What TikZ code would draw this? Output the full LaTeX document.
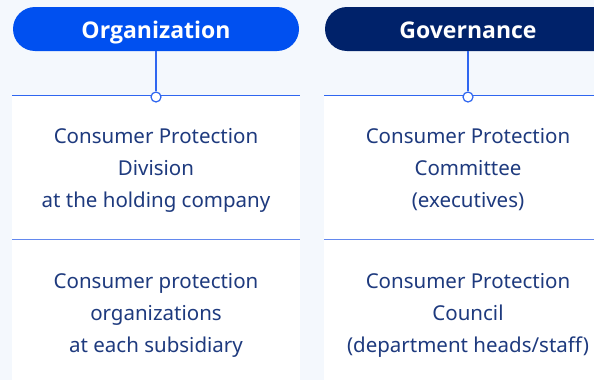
\documentclass[tikz,border=0pt]{standalone}
\usepackage{fontspec}
\setmainfont{Noto Sans}
\newfontfamily\headfont{Open Sans}
\definecolor{bg}{HTML}{F4F8FD}
\definecolor{pillA}{HTML}{0050F0}
\definecolor{pillB}{HTML}{00226A}
\definecolor{lineA}{HTML}{2F66F0}
\definecolor{lineB}{HTML}{6388EE}
\definecolor{txt}{HTML}{1E3A7E}
\begin{document}
\begin{tikzpicture}[x=1pt,y=-1pt,
  pill/.style={rounded corners=22pt},
  head/.style={text=white,font=\headfont\fontsize{23}{27}\selectfont\bfseries,anchor=base},
  body/.style={text=txt,font=\fontsize{20.5}{32}\selectfont,align=center,anchor=center},
  conn/.style={draw=lineA,line width=1.3pt},
  dot/.style={circle,draw=lineA,fill=white,line width=1.2pt,minimum size=10pt,inner sep=0pt}]
\useasboundingbox (0,0) rectangle (594,380);
\clip (0,0) rectangle (594,380);
\fill[bg] (0,0) rectangle (594,380);
% panels
\fill[white] (12,95) rectangle (300,380);
\fill[white] (324,95) rectangle (594,380);
\draw[lineA,line width=1.6pt] (12,95.5) -- (300,95.5);
\draw[lineA,line width=1.6pt] (324,95.5) -- (594,95.5);
\draw[lineB,line width=1.6pt] (12,239.5) -- (300,239.5);
\draw[lineB,line width=1.6pt] (324,239.5) -- (594,239.5);
% pills
\fill[pillA,pill] (13,7) rectangle (299,51);
\fill[pillB,pill] (325,7) rectangle (640,51);
\node[head] (h1) at (156,38) {Organization};
\node[head] (h2) at (468,38) {Governance};
\coordinate (t1) at (156,51);
\coordinate (t2) at (468,51);
\node[dot] (d1) at (156,97) {};
\node[dot] (d2) at (468,97) {};
\draw[conn] (t1) -- (d1);
\draw[conn] (t2) -- (d2);
% texts
\node[body] (a1) at (156,170) {Consumer Protection\\Division\\at the holding company};
\node[body] (a2) at (156,315) {Consumer protection\\organizations\\at each subsidiary};
\node[body] (b1) at (468,170) {Consumer Protection\\Committee\\(executives)};
\node[body] (b2) at (468,315) {Consumer Protection\\Council\\(department heads/staff)};
\end{tikzpicture}
\end{document}
